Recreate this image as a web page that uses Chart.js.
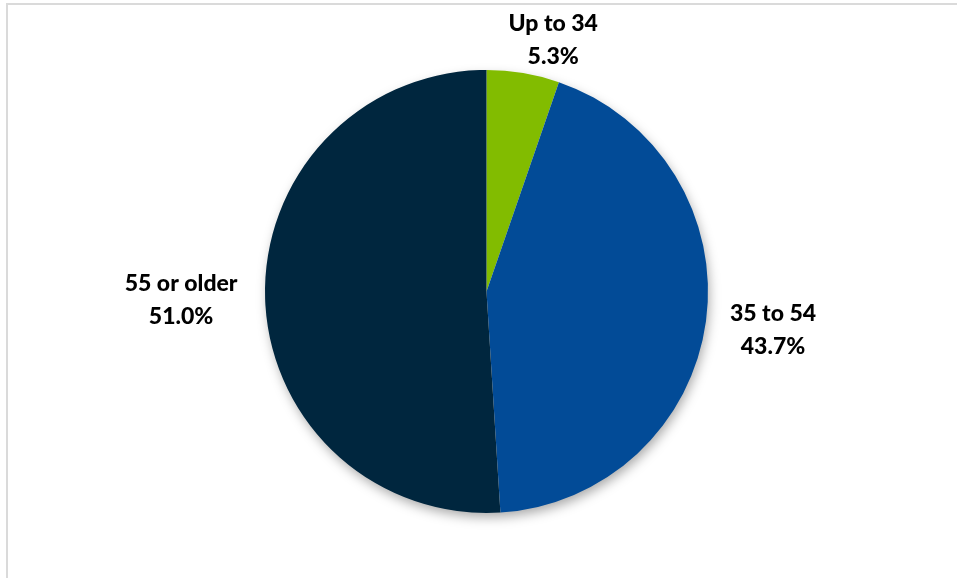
<!DOCTYPE html>
<html>
<head>
<meta charset="utf-8">
<script src="https://cdn.jsdelivr.net/npm/chart.js@4"></script>
<style>
  html, body { margin: 0; padding: 0; background: #fff; }
  #wrap { position: relative; width: 957px; height: 578px; overflow: hidden; }
  #frame {
    position: absolute; left: 6px; top: 3px; width: 951px; height: 580px;
    border-top: 2px solid #dadada; border-left: 2px solid #dadada;
  }
  canvas { position: absolute; left: 0; top: 0; }
</style>
</head>
<body>
<div id="wrap">
  <div id="frame"></div>
  <canvas id="ageChart" width="957" height="578"></canvas>
</div>
<script>
const ageGroups = ["Up to 34", "35 to 54", "55 or older"];
const shares = [5.3, 43.7, 51.0];
const sliceColors = ["#82BC00", "#024B97", "#00263E"];

// where each label block sits relative to the slice's outer edge (dx, first baseline dy)
const labelOffsets = [[30, -42], [67, 0], [-84, -7]];

// soft drop shadow under the whole pie
const pieShadow = {
  id: "pieShadow",
  beforeDatasetsDraw(chart) {
    const arc = chart.getDatasetMeta(0).data[0];
    if (!arc) return;
    const ctx = chart.ctx;
    ctx.save();
    ctx.shadowColor = "rgba(0,0,0,0.35)";
    ctx.shadowBlur = 12;
    ctx.shadowOffsetX = 2;
    ctx.shadowOffsetY = 5;
    ctx.fillStyle = "#fff";
    ctx.beginPath();
    ctx.arc(arc.x, arc.y, arc.outerRadius - 1, 0, Math.PI * 2);
    ctx.fill();
    ctx.restore();
  }
};

// category name + percentage outside each slice
const outsideLabels = {
  id: "outsideLabels",
  afterDatasetsDraw(chart) {
    const ctx = chart.ctx;
    const meta = chart.getDatasetMeta(0);
    ctx.save();
    ctx.fillStyle = "#000";
    ctx.font = "900 23px Lato, 'Open Sans', sans-serif";
    ctx.textAlign = "center";
    ctx.textBaseline = "alphabetic";
    meta.data.forEach((arc, i) => {
      const mid = (arc.startAngle + arc.endAngle) / 2;
      const ex = arc.x + Math.cos(mid) * arc.outerRadius;
      const ey = arc.y + Math.sin(mid) * arc.outerRadius;
      const [dx, dy] = labelOffsets[i];
      ctx.fillText(ageGroups[i], ex + dx, ey + dy);
      ctx.fillText(shares[i].toFixed(1) + "%", ex + dx, ey + dy + 33);
    });
    ctx.restore();
  }
};

new Chart(document.getElementById("ageChart"), {
  type: "pie",
  data: {
    labels: ageGroups,
    datasets: [{
      data: shares,
      backgroundColor: sliceColors,
      borderWidth: 0
    }]
  },
  options: {
    responsive: false,
    animation: false,
    layout: { padding: { top: 70, bottom: 65, left: 16, right: 0 } },
    plugins: {
      legend: { display: false },
      tooltip: { enabled: false }
    }
  },
  plugins: [pieShadow, outsideLabels]
});
</script>
</body>
</html>
